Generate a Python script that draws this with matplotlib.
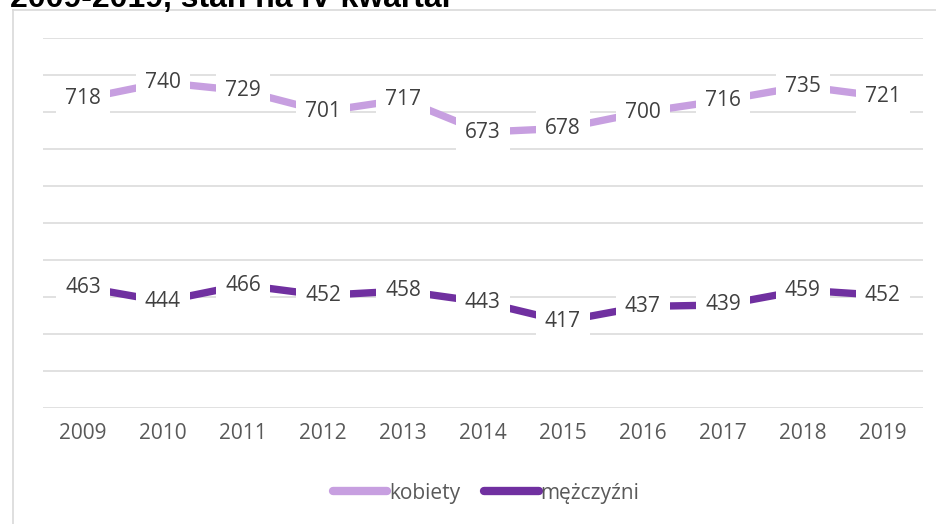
import matplotlib.pyplot as plt
from matplotlib.lines import Line2D

years = ['2009', '2010', '2011', '2012', '2013', '2014', '2015', '2016', '2017', '2018', '2019']
kobiety = [718, 740, 729, 701, 717, 673, 678, 700, 716, 735, 721]
mezczyzni = [463, 444, 466, 452, 458, 443, 417, 437, 439, 459, 452]

LIGHT = '#C79FE0'
DARK = '#7030A0'
TXT = '#404040'
FONT = ['Open Sans', 'DejaVu Sans']

plt.rcParams['font.family'] = ['Liberation Sans', 'DejaVu Sans']

fig = plt.figure(figsize=(9.37, 5.24), dpi=100)
ax = fig.add_axes([0.0459, 0.222, 0.939, 0.705])

x = list(range(len(years)))
ax.plot(x, kobiety, color=LIGHT, lw=5.3, solid_capstyle='butt', zorder=3)
ax.plot(x, mezczyzni, color=DARK, lw=5.3, solid_capstyle='butt', zorder=3)

for series in (kobiety, mezczyzni):
    for xi, v in zip(x, series):
        ax.text(xi, v, str(v), ha='center', va='center', fontsize=15, color=TXT,
                family=FONT, zorder=4,
                bbox=dict(boxstyle='square,pad=0.42', fc='white', ec='none'))

ax.set_xlim(-0.5, len(years) - 0.5)
ax.set_ylim(300, 800)
ax.set_yticks(range(300, 801, 50))
ax.set_yticklabels([])
ax.grid(axis='y', color='#D9D9D9', lw=1.1, zorder=0)
ax.set_xticks(x)
ax.set_xticklabels(years, fontsize=15, color='#595959', family=FONT)
ax.tick_params(length=0, pad=11)
for s in ax.spines.values():
    s.set_visible(False)

handles = [Line2D([], [], color=LIGHT, lw=6, solid_capstyle='round'),
           Line2D([], [], color=DARK, lw=6, solid_capstyle='round')]
fig.legend(handles, ['kobiety', 'mężczyźni'], loc='center', bbox_to_anchor=(0.519, 1 - 493 / 524),
           ncol=2, frameon=False, handlelength=2.6, handletextpad=0.1, columnspacing=1.15,
           prop={'family': FONT, 'size': 15}, labelcolor='#595959')

# chart frame (only left and top edges are visible)
fig.add_artist(Line2D([13.5 / 937, 13.5 / 937], [1 - 10 / 524, 0], color='#D9D9D9', lw=1.2,
                      transform=fig.transFigure))
fig.add_artist(Line2D([13.5 / 937, 1], [1 - 10 / 524, 1 - 10 / 524], color='#D9D9D9', lw=1.2,
                      transform=fig.transFigure))

# title, cut off by the top edge
fig.text(10 / 937, 1 - 7 / 524, '2009-2019, stan na IV kwartał', fontsize=23, fontweight='bold',
         color='black', va='baseline', ha='left')

fig.savefig('out.png', dpi=100)
